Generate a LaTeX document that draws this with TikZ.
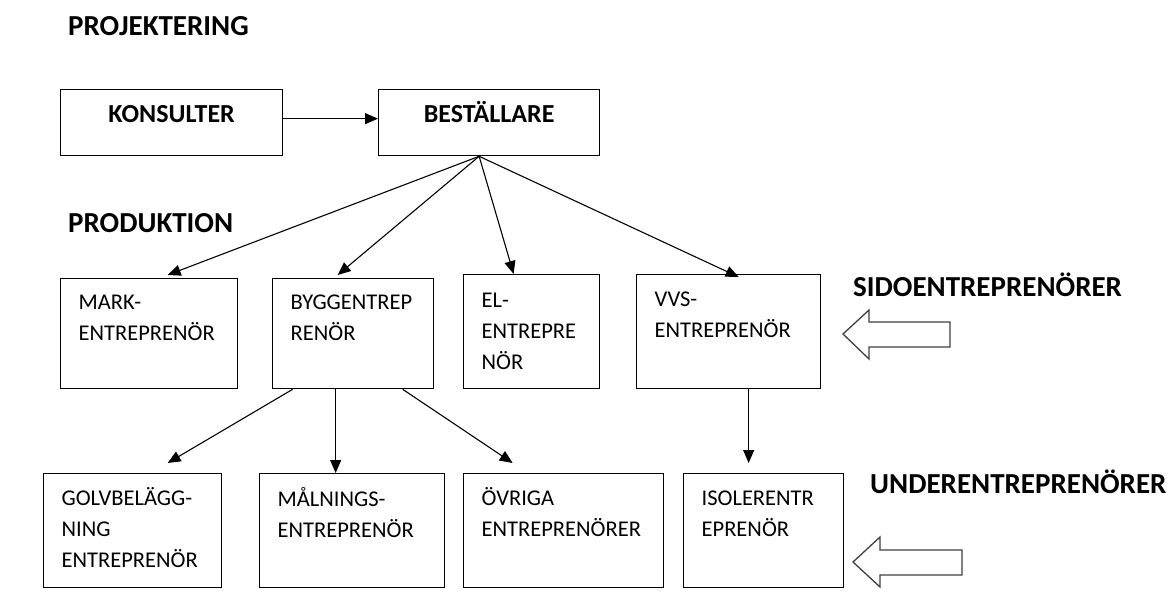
\documentclass[tikz,border=0pt]{standalone}
\usepackage{fontspec}
\setmainfont{Carlito}
\usetikzlibrary{arrows.meta,calc}
\tikzset{%
kasse/.style={draw,line width=1.3pt,anchor=north west,inner xsep=18pt,inner ysep=0pt,
              align=left,font=\fontsize{22.5}{31}\selectfont},
topkasse/.style={kasse,align=center,font=\bfseries\fontsize{26}{31}\selectfont},
rubrik/.style={anchor=base west,inner sep=0pt,font=\bfseries\fontsize{29}{34}\selectfont},
pil/.style={-{Triangle[length=13pt,width=11pt]},line width=1.1pt},
blockpil/.style={draw=black!75,line width=1.3pt,fill=white,line join=miter},
}

\begin{document}
\begin{tikzpicture}[x=1pt,y=-1pt]
\useasboundingbox (0,0) rectangle (1175,594);

% rubriker
\node[rubrik] (projektering) at (68,36) {PROJEKTERING};
\node[rubrik] (produktion) at (68,232) {PRODUKTION};
\node[rubrik] (sido) at (853,296) {SIDOENTREPRENÖRER};
\node[rubrik] (under) at (870,493) {UNDERENTREPRENÖRER};

% projektering
\node[topkasse,text width=186pt,text height=33pt,text depth=33pt] (konsulter) at (60,89) {KONSULTER};
\node[topkasse,text width=185pt,text height=33pt,text depth=33pt] (bestallare) at (378,89) {BESTÄLLARE};

% sidoentreprenörer
\node[kasse,text width=141pt,text height=31pt,text depth=79pt] (mark) at (60,278) {MARK-\\ENTREPRENÖR};
\node[kasse,text width=125pt,text height=31pt,text depth=79pt] (bygg) at (272,278) {BYGGENTREP\\RENÖR};
\node[kasse,text width=100pt,text height=33pt,text depth=81pt] (el) at (463,274) {EL-\\ENTREPRE\\NÖR};
\node[kasse,text width=148pt,text height=32pt,text depth=82pt] (vvs) at (636,274) {VVS-\\ENTREPRENÖR};

% underentreprenörer
\node[kasse,text width=142pt,text height=32pt,text depth=82pt] (golv) at (43,473) {GOLVBELÄGG-\\NING\\ENTREPRENÖR};
\node[kasse,text width=149pt,text height=33pt,text depth=81pt] (maln) at (259,473) {MÅLNINGS-\\ENTREPRENÖR};
\node[kasse,text width=164pt,text height=32pt,text depth=82pt] (ovriga) at (463,473) {ÖVRIGA\\ENTREPRENÖRER};
\node[kasse,text width=124pt,text height=32pt,text depth=82pt] (isoler) at (683,473) {ISOLERENTR\\EPRENÖR};

% pilar
\draw[pil] ([yshift=4pt]konsulter.east) -- ([yshift=4pt]bestallare.west);
\coordinate (fan) at ([xshift=-10pt]bestallare.south);
\draw[pil] (fan) -- ([xshift=18.5pt,yshift=3pt]mark.north);
\draw[pil] (fan) -- ([xshift=-15.5pt,yshift=3pt]bygg.north);
\draw[pil] (fan) -- ([xshift=-18pt]el.north);
\draw[pil] (fan) -- ([xshift=10pt,yshift=-3pt]vvs.north);

\draw[pil] ([xshift=-60.5pt]bygg.south) -- ([xshift=35pt,yshift=10pt]golv.north);
\draw[pil] ([xshift=-17.5pt]bygg.south) coordinate (byggmitt) -- (byggmitt |- maln.north);
\draw[pil] ([xshift=49.5pt]bygg.south) -- ([xshift=-51pt,yshift=10pt]ovriga.north);
\draw[pil] ([xshift=20pt]vvs.south) -- ([xshift=-15pt,yshift=10pt]isoler.north);

% blockpilar
\coordinate (sidospets) at (843,334);
\coordinate (underspets) at (853,562);
\draw[blockpil] (sidospets) -- ++(26,-24) -- ++(0,12) -- ++(81,0) -- ++(0,25)
                -- ++(-81,0) -- ++(0,12) -- cycle;
\draw[blockpil] (underspets) -- ++(27,-25) -- ++(0,13) -- ++(82,0) -- ++(0,25)
                -- ++(-82,0) -- ++(0,12) -- cycle;
\end{tikzpicture}
\end{document}
